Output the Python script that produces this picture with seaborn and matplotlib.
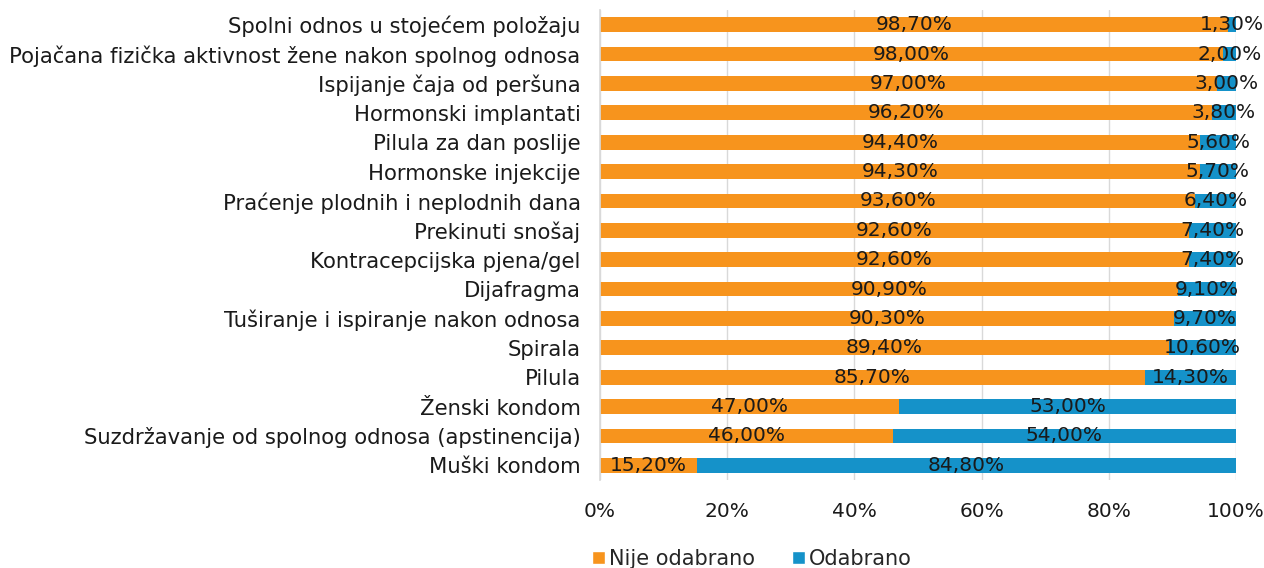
import matplotlib
matplotlib.use("Agg")
import matplotlib.pyplot as plt
import seaborn as sns
import pandas as pd
from matplotlib.patches import Patch

# --- Data ---
CATEGORIES = [
    "Spolni odnos u stojećem položaju",
    "Pojačana fizička aktivnost žene nakon spolnog odnosa",
    "Ispijanje čaja od peršuna",
    "Hormonski implantati",
    "Pilula za dan poslije",
    "Hormonske injekcije",
    "Praćenje plodnih i neplodnih dana",
    "Prekinuti snošaj",
    "Kontracepcijska pjena/gel",
    "Dijafragma",
    "Tuširanje i ispiranje nakon odnosa",
    "Spirala",
    "Pilula",
    "Ženski kondom",
    "Suzdržavanje od spolnog odnosa (apstinencija)",
    "Muški kondom",
]
NIJE_ODABRANO = [98.7, 98.0, 97.0, 96.2, 94.4, 94.3, 93.6, 92.6, 92.6, 90.9, 90.3, 89.4, 85.7, 47.0, 46.0, 15.2]
ODABRANO = [1.3, 2.0, 3.0, 3.8, 5.6, 5.7, 6.4, 7.4, 7.4, 9.1, 9.7, 10.6, 14.3, 53.0, 54.0, 84.8]
SERIES = ["Nije odabrano", "Odabrano"]
X_TICKS = [0, 20, 40, 60, 80, 100]

ORANGE = "#F7941D"
BLUE = "#1592C9"

df = pd.DataFrame({"cat": CATEGORIES, "nije": NIJE_ODABRANO, "oda": ODABRANO})
df["total"] = df["nije"] + df["oda"]

sns.set_theme(style="white")
plt.rcParams["font.family"] = ["DejaVu Sans"]

fig = plt.figure(figsize=(12.64, 5.68), dpi=100)
ax = fig.add_axes([600 / 1264, 1 - 480 / 568, 636 / 1264, 470 / 568])

# stacked: full bar in blue, then orange part on top
sns.barplot(data=df, x="total", y="cat", color=BLUE, width=0.5, ax=ax,
            orient="h", saturation=1, linewidth=0, zorder=2)
sns.barplot(data=df, x="nije", y="cat", color=ORANGE, width=0.5, ax=ax,
            orient="h", saturation=1, linewidth=0, zorder=3)


def fmt(v):
    return f"{v:.2f}%".replace(".", ",")


for i, (a, b) in enumerate(zip(NIJE_ODABRANO, ODABRANO)):
    ax.text(a / 2, i, fmt(a), ha="center", va="center", fontsize=14.5,
            color="#1a1a1a", zorder=5)
    ax.text(a + b / 2, i, fmt(b), ha="center", va="center", fontsize=14.5,
            color="#1a1a1a", zorder=5)

ax.set_xlim(0, 100)
ax.set_ylim(15.5, -0.5)
ax.set_xticks(X_TICKS)
ax.set_xticklabels([f"{t}%" for t in X_TICKS])
ax.tick_params(axis="x", labelsize=14.5, pad=16, length=0, colors="#1a1a1a")
ax.tick_params(axis="y", labelsize=15.2, pad=14, length=0, colors="#1a1a1a")
ax.set_xlabel("")
ax.set_ylabel("")
ax.xaxis.grid(True, color="#d9d9d9", linewidth=1, zorder=0)
ax.set_axisbelow(True)
for s in ["top", "right", "bottom"]:
    ax.spines[s].set_visible(False)
ax.spines["left"].set_color("#d9d9d9")
ax.spines["left"].set_zorder(4)

handles = [Patch(facecolor=ORANGE, label=SERIES[0]), Patch(facecolor=BLUE, label=SERIES[1])]
fig.legend(handles=handles, loc="center", bbox_to_anchor=(752 / 1264, 1 - 559 / 568),
           ncol=2, frameon=False, fontsize=15, handlelength=0.6, handleheight=0.6,
           handletextpad=0.2, columnspacing=1.8)

fig.savefig("out.png", dpi=100)
